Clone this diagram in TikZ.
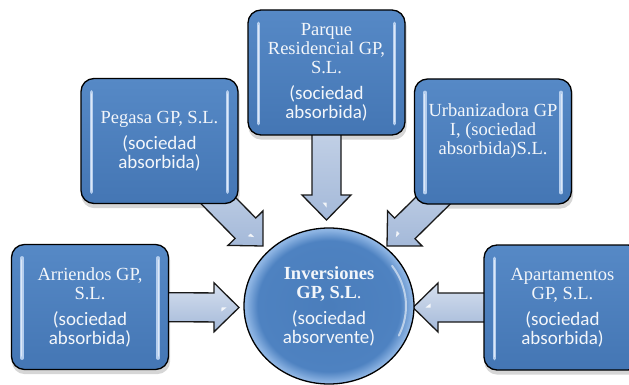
\documentclass[tikz,border=0pt]{standalone}
\usepackage{fontspec}
\setmainfont{Liberation Serif}
\newfontfamily\calib{Carlito}
\usetikzlibrary{calc,shapes.geometric}
\definecolor{boxtop}{HTML}{5689C6}
\definecolor{boxbot}{HTML}{4476B4}
\definecolor{barc}{HTML}{B5CEEE}
\definecolor{arrtop}{HTML}{D5DFEE}
\definecolor{arrbot}{HTML}{A4B9D9}
\definecolor{txtc}{HTML}{F3F6FA}
\definecolor{ballin}{HTML}{4A7DBB}
\definecolor{ballmid}{HTML}{4E82C1}
\definecolor{ballrim}{HTML}{8DB4E3}
\pgfdeclareradialshading{ballshade}{\pgfpoint{0bp}{0bp}}{color(0bp)=(ballin); color(21bp)=(ballmid); color(24.4bp)=(ballrim); color(25bp)=(ballrim); color(50bp)=(ballrim)}
\pgfdeclarelayer{bg}
\pgfsetlayers{bg,main}
\tikzset{
  company/.style={draw=black, line width=1.3pt, rounded corners=13pt,
    minimum width=157pt, minimum height=125pt, inner sep=0pt,
    top color=boxtop, bottom color=boxbot, text=txtc, align=center,
    font=\fontsize{18.5}{19}\selectfont},
  boxshadow/.style={fill=black, opacity=0.16, rounded corners=13pt},
  ball/.style={ellipse, draw=black, line width=1.3pt, minimum width=170pt,
    minimum height=156pt, inner sep=0pt, shading=ballshade, text=txtc,
    align=center, font=\fontsize{18.5}{19}\selectfont},
  blockarr/.style={draw=black!90, line width=1.3pt, line join=miter,
    top color=arrtop, bottom color=arrbot},
  glint/.style={fill=white, opacity=0.85},
  barline/.style={barc, line width=3.5pt, line cap=round},
  barhi/.style={white, opacity=0.55, line width=1pt, line cap=round}
}
\newcommand\blockarrow[2]{%
  \coordinate (hbase) at ($(#2)!25pt!(#1)$);
  \draw[blockarr] ($(#1)!14.5pt!90:(#2)$) -- ($(hbase)!14.5pt!90:(#2)$)
    -- ($(hbase)!24.5pt!90:(#2)$) -- (#2) -- ($(hbase)!24.5pt!-90:(#2)$)
    -- ($(hbase)!14.5pt!-90:(#2)$) -- ($(#1)!14.5pt!-90:(#2)$) -- cycle;
  \coordinate (gl) at ($(hbase)!0.3!(#2)$);
  \fill[glint] ($(gl)!4pt!-90:(#2)$) -- ($(gl)!5pt!(#2)$) -- (gl) -- cycle;}
\newcommand\boxbars[1]{%
  \draw[barline] ($(#1.north west)+(11,14)$) -- ($(#1.south west)+(11,-12)$);
  \draw[barhi] ($(#1.north west)+(11,16)$) -- ($(#1.south west)+(11,-14)$);
  \draw[barline] ($(#1.north east)+(-11,14)$) -- ($(#1.south east)+(-11,-12)$);
  \draw[barhi] ($(#1.north east)+(-11,16)$) -- ($(#1.south east)+(-11,-14)$);}
\newcommand\boxshadow[1]{%
  \fill[boxshadow] ($(#1.north west)+(1,4)$) rectangle ($(#1.south east)+(1,4)$);}
\newcommand\sansA[1]{\calib\fontsize{19}{20}\selectfont #1}
\begin{document}
\begin{tikzpicture}[x=1pt, y=-1pt]
\useasboundingbox (0,0) rectangle (629,385);

\node[company] (arr) at (90,307) {Arriendos GP,\\S.L.\\[7pt]\sansA{(sociedad}\\\sansA{absorbida)}};
\node[company] (peg) at (159.5,141) {Pegasa GP, S.L.\\[7pt]\sansA{(sociedad}\\\sansA{absorbida)}};
\node[company] (par) at (326.5,72.5) {Parque\\Residencial GP,\\S.L.\\[7pt]\sansA{(sociedad}\\\sansA{absorbida)}};
\node[company] (urb) at (493,141.5) {Urbanizadora GP\\I, (sociedad\\absorbida)S.L.\\[6pt]\hphantom{x}};
\node[company] (apt) at (562.5,307.5) {Apartamentos\\GP, S.L.\\[7pt]\sansA{(sociedad}\\\sansA{absorbida)}};

\node[ball] (inv) at (329,306) {\textbf{Inversiones}\\\textbf{GP, S.L}.\\[7pt]\sansA{(sociedad}\\\sansA{absorvente)}};

\foreach \b in {arr,peg,par,urb,apt} {\boxbars{\b}}

\draw[white, opacity=0.55, line width=2pt, line cap=round]
  ($(inv.center)+(-35:77 and 70)$) arc[start angle=-35, end angle=25, x radius=77, y radius=70];

\coordinate (tipL) at (239,307.5);
\coordinate (tipR) at (413,307.5);
\coordinate (tipD) at (326.5,220);
\coordinate (tipPL) at (263,246);
\coordinate (tipPR) at (387,246);

\begin{pgfonlayer}{bg}
  \fill[white] (0,0) rectangle (629,385);
  \foreach \b in {arr,peg,par,urb,apt} {\boxshadow{\b}}
  \blockarrow{arr.center}{tipL}
  \blockarrow{apt.center}{tipR}
  \blockarrow{par.center}{tipD}
  \blockarrow{peg.center}{tipPL}
  \blockarrow{urb.center}{tipPR}
\end{pgfonlayer}
\end{tikzpicture}
\end{document}
